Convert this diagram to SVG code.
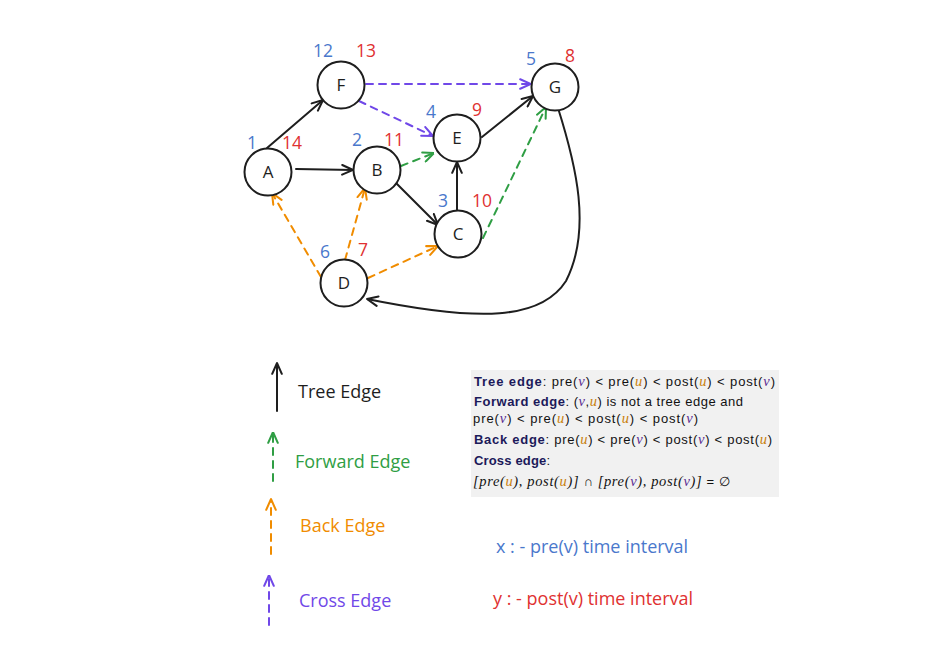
<svg xmlns="http://www.w3.org/2000/svg" width="940" height="667" viewBox="0 0 940 667">
<style>
.node circle{fill:#fff;stroke:#1e1e1e;stroke-width:2}
.node text{font-family:"Open Sans","Liberation Sans",sans-serif;font-size:17px;fill:#1e1e1e;text-anchor:middle}
.num{font-family:"Open Sans","Liberation Sans",sans-serif;font-size:17.5px;text-anchor:middle}
.pre{fill:#4a78cc}
.post{fill:#e03131}
.e{fill:none;stroke-width:2;stroke-linecap:round}
.tree{stroke:#1e1e1e;marker-end:url(#mk)}
.fwd{stroke:#2f9e44;stroke-dasharray:7 6;marker-end:url(#mg)}
.back{stroke:#f08c00;stroke-dasharray:7 6;marker-end:url(#mo)}
.cross{stroke:#7048e8;stroke-dasharray:7 6;marker-end:url(#mp)}
.leg{font-family:"Open Sans","Liberation Sans",sans-serif;font-size:18px}
.bx{font-family:"Liberation Sans",sans-serif;font-size:13px;fill:#111}
.bt{font-weight:bold;fill:#1c1a5a}
.m{font-family:"Liberation Serif",serif;font-style:italic;font-size:14.5px}
.v{fill:#5a2d91}
.u{fill:#c9800c}
</style>
<defs>
<marker id="mk" viewBox="0 0 10 10" refX="10" refY="5" markerWidth="12" markerHeight="12" markerUnits="userSpaceOnUse" orient="auto"><path d="M1,1 L10,5 L1,9" fill="none" stroke="#1e1e1e" stroke-width="1.7" stroke-linecap="round" stroke-linejoin="round"/></marker>
<marker id="mg" viewBox="0 0 10 10" refX="10" refY="5" markerWidth="12" markerHeight="12" markerUnits="userSpaceOnUse" orient="auto"><path d="M1,1 L10,5 L1,9" fill="none" stroke="#2f9e44" stroke-width="1.7" stroke-linecap="round" stroke-linejoin="round"/></marker>
<marker id="mo" viewBox="0 0 10 10" refX="10" refY="5" markerWidth="12" markerHeight="12" markerUnits="userSpaceOnUse" orient="auto"><path d="M1,1 L10,5 L1,9" fill="none" stroke="#f08c00" stroke-width="1.7" stroke-linecap="round" stroke-linejoin="round"/></marker>
<marker id="mp" viewBox="0 0 10 10" refX="10" refY="5" markerWidth="12" markerHeight="12" markerUnits="userSpaceOnUse" orient="auto"><path d="M1,1 L10,5 L1,9" fill="none" stroke="#7048e8" stroke-width="1.7" stroke-linecap="round" stroke-linejoin="round"/></marker>
</defs>
<rect width="940" height="667" fill="#fff"/>

<g id="connectors">
<path class="e tree" d="M267,148 L323,100"/>
<path class="e tree" d="M296,169 L353,170"/>
<path class="e cross" d="M366,84 L531,84"/>
<path class="e cross" d="M359,101 L433,136"/>
<path class="e fwd" d="M401,166 L434,153"/>
<path class="e tree" d="M396,183 L438,225"/>
<path class="e tree" d="M457,211 L457,162"/>
<path class="e tree" d="M482,137 L533,96"/>
<path class="e fwd" d="M483,238 L546,107"/>
<path class="e back" d="M321,277 L272,193"/>
<path class="e back" d="M345,260 L365,188"/>
<path class="e back" d="M368,278 L438,246"/>
<path class="e tree" d="M558,108 C576,165 592,230 566,281 C541,320 480,322 367,299"/>
</g>

<g id="node-A" class="node"><circle cx="268" cy="172" r="23.5"/><text x="268" y="178">A</text></g>
<g id="node-F" class="node"><circle cx="341" cy="85" r="23.5"/><text x="341" y="91">F</text></g>
<g id="node-G" class="node"><circle cx="555" cy="87" r="23.5"/><text x="555" y="93">G</text></g>
<g id="node-E" class="node"><circle cx="457" cy="138" r="23.5"/><text x="457" y="144">E</text></g>
<g id="node-B" class="node"><circle cx="377" cy="170" r="23.5"/><text x="377" y="176">B</text></g>
<g id="node-C" class="node"><circle cx="458" cy="234" r="23.5"/><text x="458" y="240">C</text></g>
<g id="node-D" class="node"><circle cx="344" cy="283" r="23.5"/><text x="344" y="289">D</text></g>

<g id="times">
<text class="num pre" x="323" y="57">12</text><text class="num post" x="366" y="57">13</text>
<text class="num pre" x="531" y="65">5</text><text class="num post" x="570" y="62">8</text>
<text class="num pre" x="431" y="118">4</text><text class="num post" x="477" y="116">9</text>
<text class="num pre" x="252" y="149">1</text><text class="num post" x="292" y="149">14</text>
<text class="num pre" x="357" y="146">2</text><text class="num post" x="394" y="146">11</text>
<text class="num pre" x="443" y="207">3</text><text class="num post" x="482" y="207">10</text>
<text class="num pre" x="325" y="258">6</text><text class="num post" x="363" y="256">7</text>
</g>

<g id="legend">
<path class="e tree" d="M277,411 L277,363"/>
<text class="leg" x="298" y="398" fill="#1e1e1e">Tree Edge</text>
<path class="e fwd" d="M273,481 L273,432"/>
<text class="leg" x="295" y="468" fill="#2f9e44">Forward Edge</text>
<path class="e back" d="M271,554 L271,499"/>
<text class="leg" x="300" y="532" fill="#f08c00">Back Edge</text>
<path class="e cross" d="M269,625 L269,575"/>
<text class="leg" x="299" y="607" fill="#7048e8">Cross Edge</text>
</g>

<g id="definitions">
<rect x="471" y="370" width="308" height="127" fill="#f1f1f1"/>
<text class="bx" x="474" y="386" textLength="301" lengthAdjust="spacing"><tspan class="bt">Tree edge</tspan>:  pre(<tspan class="m v">v</tspan>) &lt; pre(<tspan class="m u">u</tspan>) &lt; post(<tspan class="m u">u</tspan>) &lt; post(<tspan class="m v">v</tspan>)</text>
<text class="bx" x="474" y="406" textLength="269" lengthAdjust="spacing"><tspan class="bt">Forward edge</tspan>:  (<tspan class="m v">v</tspan>,<tspan class="m u">u</tspan>)  is not a tree edge and</text>
<text class="bx" x="473" y="423" textLength="225" lengthAdjust="spacing">pre(<tspan class="m v">v</tspan>) &lt; pre(<tspan class="m u">u</tspan>) &lt; post(<tspan class="m u">u</tspan>) &lt; post(<tspan class="m v">v</tspan>)</text>
<text class="bx" x="474" y="444" textLength="298" lengthAdjust="spacing"><tspan class="bt">Back edge</tspan>: pre(<tspan class="m u">u</tspan>) &lt; pre(<tspan class="m v">v</tspan>) &lt; post(<tspan class="m v">v</tspan>) &lt; post(<tspan class="m u">u</tspan>)</text>
<text class="bx" x="474" y="465" textLength="76" lengthAdjust="spacing"><tspan class="bt">Cross edge</tspan>:</text>
<text class="bx" x="473" y="486" textLength="257" lengthAdjust="spacing"><tspan class="m">[pre(</tspan><tspan class="m u">u</tspan><tspan class="m">), post(</tspan><tspan class="m u">u</tspan><tspan class="m">)]</tspan> ∩ <tspan class="m">[pre(</tspan><tspan class="m v">v</tspan><tspan class="m">), post(</tspan><tspan class="m v">v</tspan><tspan class="m">)]</tspan> = ∅</text>
</g>

<text class="leg" x="496" y="553" fill="#4a78cc">x : - pre(v) time interval</text>
<text class="leg" x="493" y="605" fill="#e03131">y : - post(v) time interval</text>
</svg>
